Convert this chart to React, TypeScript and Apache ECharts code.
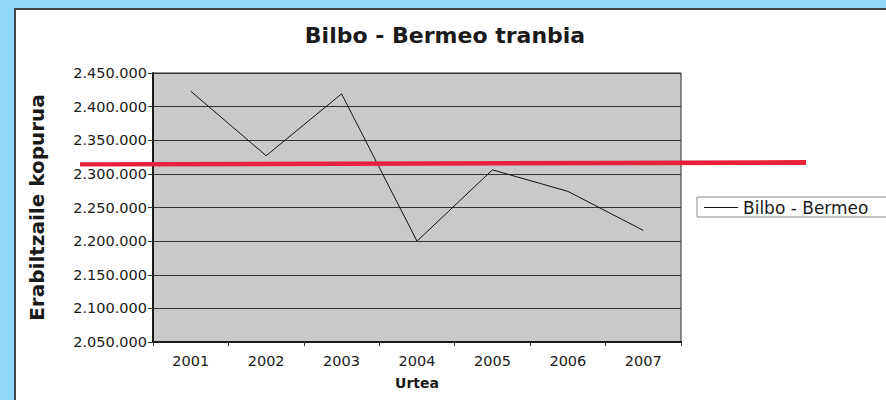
import React, { useEffect, useRef } from "react";
import * as echarts from "echarts";

const years = ["2001", "2002", "2003", "2004", "2005", "2006", "2007"];
const riders = [2423000, 2327000, 2419000, 2200000, 2306000, 2274000, 2216000];
const seriesName = "Bilbo - Bermeo";
const titleText = "Bilbo - Bermeo tranbia";
const yTitle = "Erabiltzaile kopurua";
const xTitle = "Urtea";

const fmt = (v: number) => String(Math.round(v)).replace(/\B(?=(\d{3})+(?!\d))/g, ".");

export default function App() {
  const ref = useRef<HTMLDivElement>(null);
  useEffect(() => {
    if (!ref.current) return;
    const chart = echarts.init(ref.current, undefined, { renderer: "svg" });
    const font = "'DejaVu Sans', Verdana, sans-serif";
    chart.setOption({
      animation: false,
      backgroundColor: "transparent",
      textStyle: { fontFamily: font },
      title: {
        text: titleText,
        left: 440,
        textAlign: "center",
        top: 19,
        textStyle: { fontFamily: font, fontSize: 22, fontWeight: "bold", color: "#1a1a1a" },
      },
      grid: {
        left: 153,
        top: 73,
        width: 528,
        height: 269,
        show: true,
        backgroundColor: "#c8c9cb",
        borderColor: "#2a2a2a",
        borderWidth: 1,
      },
      legend: {
        data: [seriesName],
        left: 697,
        top: 197,
        orient: "vertical",
        borderColor: "#888",
        borderWidth: 1,
        backgroundColor: "#fff",
        borderRadius: 0,
        padding: [2, 40, 1, 7],
        itemWidth: 34,
        itemHeight: 1,
        itemGap: 0,
        icon: "rect",
        textStyle: { fontFamily: font, fontSize: 17, color: "#1a1a1a" },
      },
      xAxis: {
        type: "category",
        data: years,
        boundaryGap: true,
        name: xTitle,
        nameLocation: "middle",
        nameGap: 34,
        nameTextStyle: { fontFamily: font, fontSize: 14, fontWeight: "bold", color: "#1a1a1a" },
        axisLine: { lineStyle: { color: "#1a1a1a", width: 2 } },
        axisTick: { show: true, length: 4, lineStyle: { color: "#333", width: 1 } },
        axisLabel: { fontFamily: font, fontSize: 14.5, color: "#1a1a1a", margin: 11 },
        splitLine: { show: false },
      },
      yAxis: {
        type: "value",
        min: 2050000,
        max: 2450000,
        interval: 50000,
        name: yTitle,
        nameLocation: "middle",
        nameGap: 106,
        nameRotate: 90,
        nameTextStyle: { fontFamily: font, fontSize: 20, fontWeight: "bold", color: "#1a1a1a" },
        axisLine: { show: true, lineStyle: { color: "#1a1a1a", width: 2 } },
        axisTick: { show: true, length: 5, lineStyle: { color: "#333", width: 1 } },
        axisLabel: { fontFamily: font, fontSize: 14.5, color: "#1a1a1a", margin: 6, formatter: (v: number) => fmt(v) },
        splitLine: { show: true, lineStyle: { color: "#333", width: 1 } },
      },
      series: [
        {
          name: seriesName,
          type: "line",
          data: riders,
          symbol: "none",
          lineStyle: { color: "#111", width: 1 },
          itemStyle: { color: "#111" },
        },
      ],
      graphic: [
        {
          type: "polygon",
          z: 100,
          shape: { points: [[80, 162.3], [806, 160], [806, 165], [80, 166.5]] },
          style: { fill: "#e8213a" },
        },
      ],
    });
    return () => chart.dispose();
  }, []);
  return (
    <div style={{ position: "absolute", left: 0, top: 0, width: 886, height: 400, background: "#8fd8f6", overflow: "hidden" }}>
      <div
        style={{
          position: "absolute",
          left: 14,
          top: 8,
          width: 900,
          height: 420,
          background: "#fff",
          borderTop: "2px solid #444",
          borderLeft: "2px solid #444",
          boxSizing: "border-box",
        }}
      />
      <div ref={ref} style={{ position: "absolute", left: 0, top: 0, width: 886, height: 400 }} />
    </div>
  );
}
